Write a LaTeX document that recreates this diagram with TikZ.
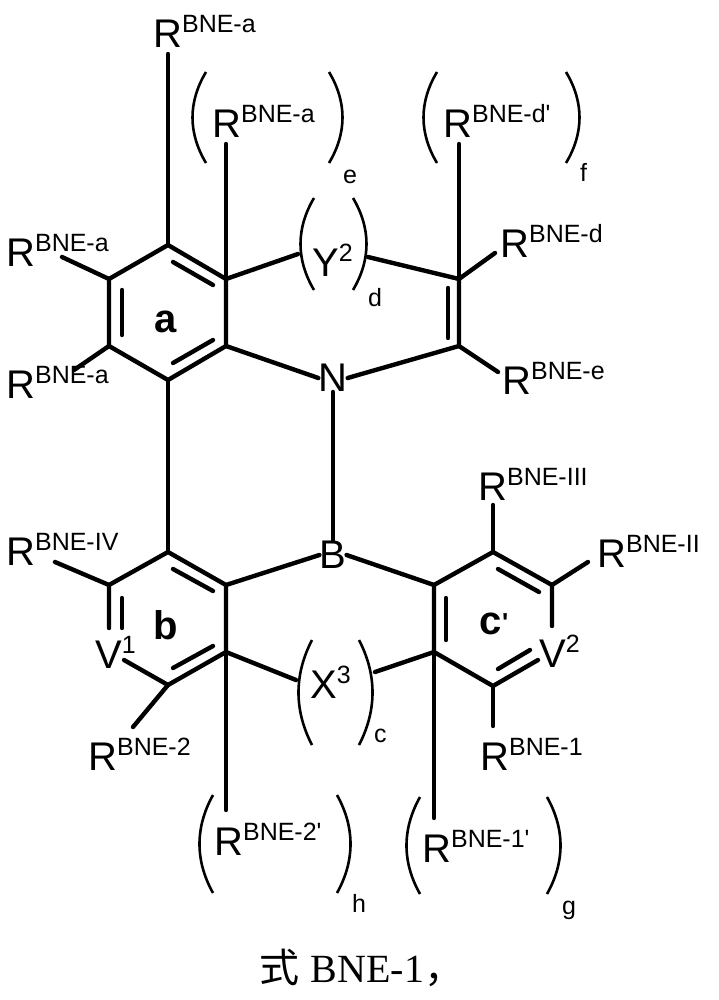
\documentclass[tikz,border=0pt]{standalone}
\usepackage{fontspec}
\setmainfont{Liberation Sans}
\newfontfamily\cjk{Noto Sans CJK SC}
\newfontfamily\serifx{Liberation Serif}
\newcommand\Rg[1]{R\raisebox{15pt}{\fontsize{25}{25}\selectfont #1}}
\newcommand\Sp[1]{\raisebox{15pt}{\fontsize{25}{25}\selectfont #1}}
\tikzset{bond/.style={line width=4.4pt,line cap=round},
 par/.style={line width=2.6pt},
 lab/.style={anchor=base west,inner sep=0pt,font=\fontsize{40}{40}\selectfont},
 sub/.style={anchor=base west,inner sep=0pt,font=\fontsize{25}{25}\selectfont},
 atom/.style={inner sep=0pt,font=\fontsize{40}{40}\selectfont},
 ring/.style={inner sep=0pt,font=\bfseries\fontsize{40}{40}\selectfont}}
\newcommand\lp[3]{\draw[par] (#1+9,#2) .. controls (#1-9,#2+0.33*#3-0.33*#2) and (#1-9,#2+0.67*#3-0.67*#2) .. (#1+9,#3);}
\newcommand\rp[3]{\draw[par] (#1-9,#2) .. controls (#1+9,#2+0.33*#3-0.33*#2) and (#1+9,#2+0.67*#3-0.67*#2) .. (#1-9,#3);}
\begin{document}
\begin{tikzpicture}[x=1pt,y=-1pt]
\useasboundingbox (0,0) rectangle (719,1000);
% ring a
\coordinate (a1) at (168,245); \coordinate (a2) at (226,279); \coordinate (a3) at (226,346);
\coordinate (a4) at (168,380); \coordinate (a5) at (109,346); \coordinate (a6) at (109,279);
\draw[bond] (a1)--(a2)--(a3)--(a4)--(a5)--(a6)--cycle;
\draw[bond] (173,262)--(213,285); \draw[bond] (122,290)--(122,335); \draw[bond] (173,363)--(213,340);
\node[ring] (la) at (166,322) {a};
% ring b
\coordinate (b1) at (168,552); \coordinate (b2) at (226,585); \coordinate (b3) at (226,652);
\coordinate (b4) at (168,685); \coordinate (b6) at (109,585);
\coordinate (v1a) at (109,628); \coordinate (v1b) at (124,660);
\draw[bond] (v1a)--(b6)--(b1)--(b2)--(b3)--(b4)--(v1b);
\draw[bond] (122,598)--(122,628); \draw[bond] (173,569)--(213,591); \draw[bond] (173,668)--(213,646);
\node[ring] (lb) at (166,625) {b};
% ring c'
\coordinate (c1) at (493,552); \coordinate (c2) at (552,585); \coordinate (c3) at (552,626);
\coordinate (c4) at (493,686); \coordinate (c5) at (434,652); \coordinate (c6) at (434,585);
\coordinate (v2b) at (538,660);
\draw[bond] (c3)--(c2)--(c1)--(c6)--(c5)--(c4)--(v2b);
\draw[bond] (446,598)--(446,640); \draw[bond] (498,569)--(539,592); \draw[bond] (498,669)--(530,650);
\node[ring] (lc) at (494,624) {c\raisebox{3pt}{\fontsize{26}{26}\selectfont\textquotesingle}};
% N, B
\node[atom] (N) at (333,378) {N};
\node[atom] (B) at (333,555) {B};
\draw[bond] (a3)--(N.west); \draw[bond] (N.south)--(B.north);
\coordinate (d1) at (459,279); \coordinate (d2) at (459,346);
\draw[bond] (N.east)--(d2)--(d1); \draw[bond] (448,288)--(448,338);
\draw[bond] (B.west)--(b2); \draw[bond] (B.east)--(c6);
\draw[bond] (a4)--(b1);
% Y2
\node[lab] (Y) at (312,276) {Y\Sp{2}};
\coordinate (y1) at (298,254); \coordinate (y2) at (368,257);
\draw[bond] (a2)--(y1); \draw[bond] (y2)--(d1);
\lp{305}{198}{290} \rp{362}{198}{290}
\node[sub] (dd) at (368,306) {d};
% X3
\node[lab] (X) at (310,698) {X\Sp{3}};
\coordinate (x1) at (296,680); \coordinate (x2) at (375,672);
\draw[bond] (b3)--(x1); \draw[bond] (x2)--(c5);
\lp{303}{640}{745} \rp{368}{640}{745}
\node[sub] (cc) at (374,742) {c};
% substituents
\node[lab] (Rt) at (153,48) {\Rg{BNE-a}};
\draw[bond] (a1)--(168,54);
\node[lab] (Re) at (212,138) {\Rg{BNE-a}};
\draw[bond] (a2)--(226,144);
\lp{197}{72}{163} \rp{338}{72}{163}
\node[sub] (ee) at (343,184) {e};
\node[lab] (Rdp) at (443,138) {\Rg{BNE-d\textquotesingle}};
\draw[bond] (d1)--(459,144);
\lp{428}{72}{163} \rp{575}{72}{163}
\node[sub] (ff) at (580,182) {f};
\node[lab] (Ral) at (6,266) {\Rg{BNE-a}};
\draw[bond] (a6)--(62,257);
\node[lab] (Ra2) at (6,398) {\Rg{BNE-a}};
\draw[bond] (a5)--(74,370);
\node[lab] (Rd) at (500,258) {\Rg{BNE-d}};
\draw[bond] (d1)--(495,253);
\node[lab] (Ree) at (502,394) {\Rg{BNE-e}};
\draw[bond] (d2)--(498,372);
\node[lab] (R3) at (478,500) {\Rg{BNE-III}};
\draw[bond] (c1)--(493,505);
\node[lab] (R2r) at (597,567) {\Rg{BNE-II}};
\draw[bond] (c2)--(588,562);
\node[lab] (R4) at (6,565) {\Rg{BNE-IV}};
\draw[bond] (b6)--(55,562);
\node[lab] (V1) at (95,668) {V\Sp{1}};
\node[lab] (V2) at (539,667) {V\Sp{2}};
\node[lab] (Rb2) at (88,770) {\Rg{BNE-2}};
\draw[bond] (b4)--(133,727);
\node[lab] (Rc1) at (480,770) {\Rg{BNE-1}};
\draw[bond] (c4)--(493,726);
\node[lab] (R2p) at (214,855) {\Rg{BNE-2\textquotesingle}};
\draw[bond] (b3)--(226,810);
\lp{204}{795}{893} \rp{346}{795}{893}
\node[sub] (hh) at (352,912) {h};
\node[lab] (R1p) at (422,862) {\Rg{BNE-1\textquotesingle}};
\draw[bond] (c5)--(434,818);
\lp{411}{797}{894} \rp{556}{797}{894}
\node[sub] (gg) at (562,914) {g};
\node[inner sep=0pt,font=\fontsize{40}{40}\selectfont] (cap) at (362,968) {{\cjk 式} {\serifx BNE-1}{\cjk ，}};
\end{tikzpicture}
\end{document}
